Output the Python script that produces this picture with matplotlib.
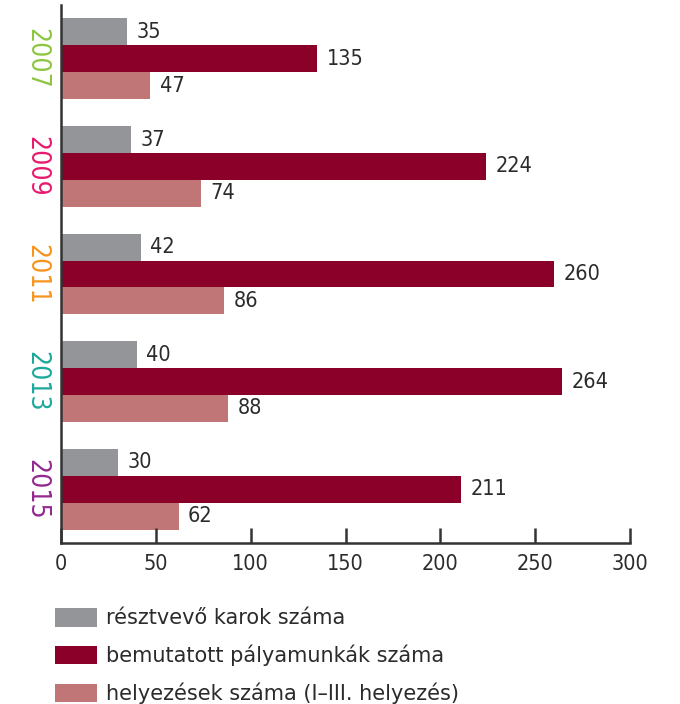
import matplotlib.pyplot as plt
import numpy as np
from matplotlib.patches import Patch

years = ['2007', '2009', '2011', '2013', '2015']
year_colors = ['#8cc63f', '#e8196e', '#f7941d', '#1ba89a', '#93278f']
karok = [35, 37, 42, 40, 30]
palyamunkak = [135, 224, 260, 264, 211]
helyezesek = [47, 74, 86, 88, 62]
series_names = ['résztvevő karok száma', 'bemutatott pályamunkák száma',
                'helyezések száma (I–III. helyezés)']
series_colors = ['#939598', '#8b0029', '#c07577']
xticks = [0, 50, 100, 150, 200, 250, 300]

plt.rcParams['font.family'] = ['DejaVu Sans']
plt.rcParams['font.stretch'] = 'condensed'
txt = '#2b2b2b'

fig = plt.figure(figsize=(6.8, 7.04), dpi=100)
ax = fig.add_axes([61/680, 1-543/704, 569/680, 538/704])

y = np.arange(len(years))
h = 0.25
for vals, off, col in zip([karok, palyamunkak, helyezesek], [-h, 0, h], series_colors):
    bars = ax.barh(y + off, vals, height=h, color=col)
    for b, v in zip(bars, vals):
        ax.text(v + 5, b.get_y() + h/2, str(v), va='center', ha='left',
                fontsize=15.5, color=txt)

ax.set_ylim(len(years) - 0.5, -0.5)
ax.set_xlim(0, 300)
ax.set_xticks(xticks)
ax.set_xticklabels([str(t) for t in xticks], fontsize=15.5, color=txt)
ax.tick_params(axis='x', direction='in', length=11, width=1.8, color='#333333', pad=8)
ax.set_yticks([])
for s in ['top', 'right']:
    ax.spines[s].set_visible(False)
for s in ['left', 'bottom']:
    ax.spines[s].set_color('#333333')
    ax.spines[s].set_linewidth(1.8)

for i, (yr, c) in enumerate(zip(years, year_colors)):
    ax.text(-0.043, i, yr, transform=ax.get_yaxis_transform(), rotation=-90,
            ha='center', va='center', fontsize=19, color=c)

# legend below the axis
handles = [Patch(facecolor=c, edgecolor='none') for c in series_colors]
fig.legend(handles, series_names, loc='upper left',
           bbox_to_anchor=(55/680, 1-608/704), frameon=False,
           borderaxespad=0, borderpad=0,
           handlelength=2.0, handleheight=1.0, handletextpad=0.45,
           labelspacing=0.78, prop={'size': 15, 'stretch': 'normal'},
           labelcolor=txt)

plt.savefig('out.png', dpi=100)
